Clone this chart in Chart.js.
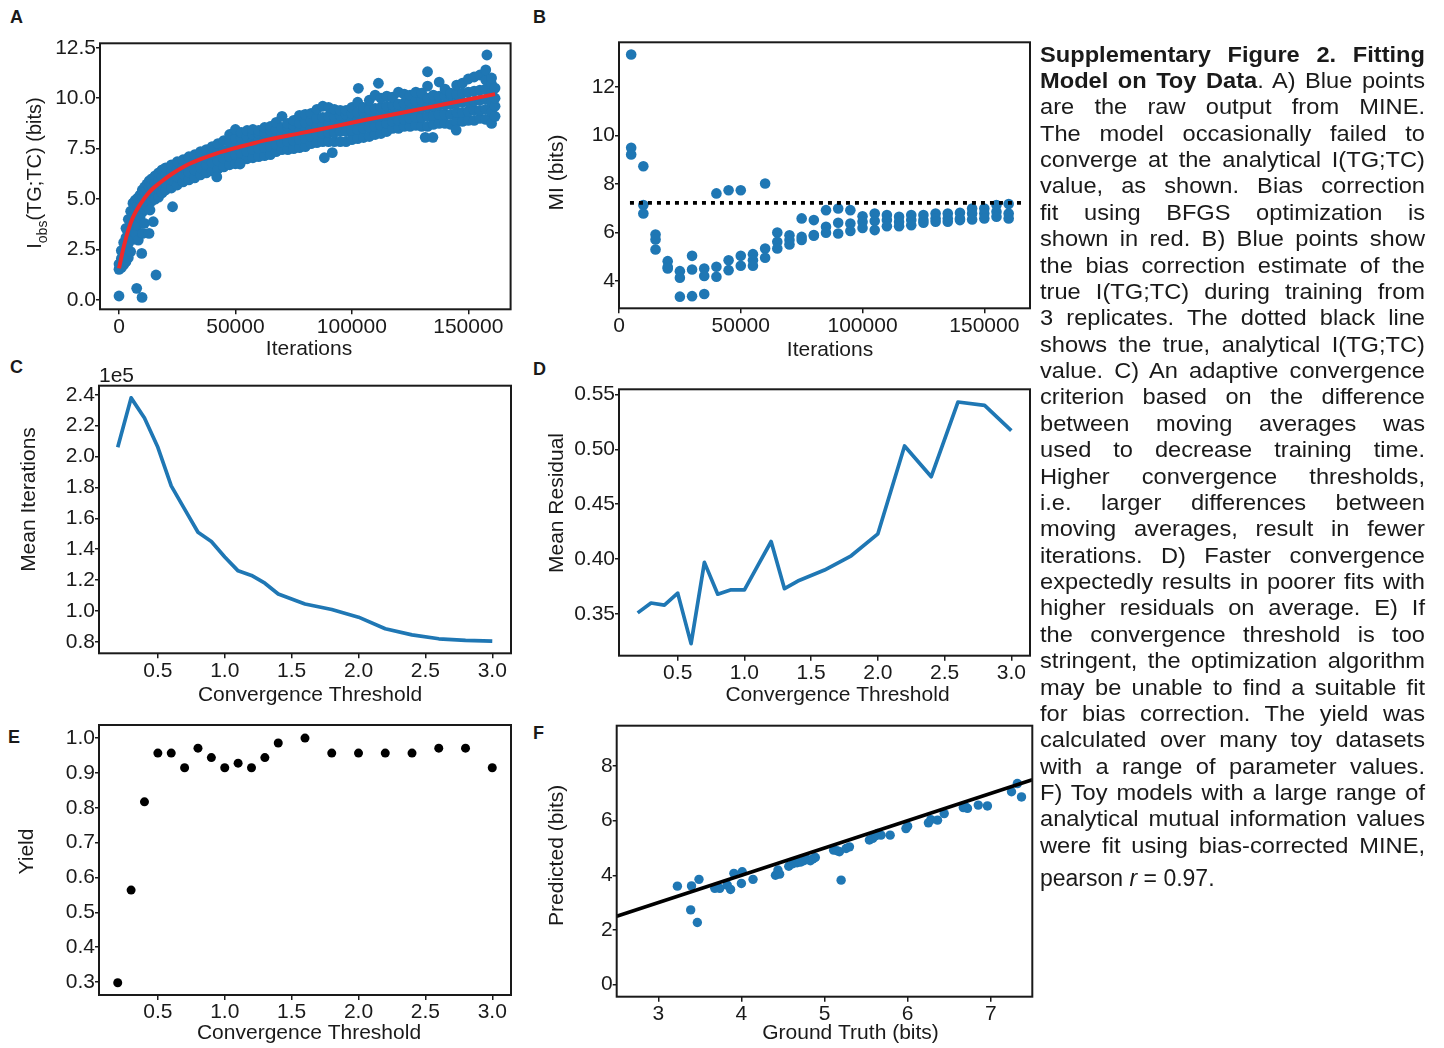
<!DOCTYPE html>
<html>
<head>
<meta charset="utf-8">
<script src="https://cdn.jsdelivr.net/npm/chart.js@4.4.1/dist/chart.umd.min.js"></script>
<style>
body { margin: 0; background: #fff; width: 1444px; height: 1048px; position: relative; overflow: hidden;
  font-family: "Liberation Sans", Arial, Helvetica, sans-serif; color: #1a1a1a; }
canvas { position: absolute; }
.tag { position: absolute; font-weight: bold; font-size: 18px; line-height: 18px; }
#cap { position: absolute; left: 1040px; top: 41.5px; width: 350px; font-size: 21.5px; line-height: 26.37px;
  transform: scaleX(1.1); transform-origin: 0 0; }
#cap div { text-align: justify; text-align-last: justify; }
#pear { position: absolute; left: 1040px; top: 865px; font-size: 23px; line-height: 26px; }
</style>
</head>
<body>
<div class="tag" style="left:10px;top:8.3px">A</div>
<div class="tag" style="left:533px;top:8.3px">B</div>
<div class="tag" style="left:10px;top:358.3px">C</div>
<div class="tag" style="left:533px;top:360px">D</div>
<div class="tag" style="left:8px;top:728.3px">E</div>
<div class="tag" style="left:533px;top:724px">F</div>

<canvas id="chartA"></canvas>
<canvas id="chartB"></canvas>
<canvas id="chartC"></canvas>
<canvas id="chartD"></canvas>
<canvas id="chartE"></canvas>
<canvas id="chartF"></canvas>

<div id="cap">
<div><b>Supplementary Figure 2. Fitting</b></div>
<div><b>Model on Toy Data</b>. A) Blue points</div>
<div>are the raw output from MINE.</div>
<div>The model occasionally failed to</div>
<div>converge at the analytical I(TG;TC)</div>
<div>value, as shown. Bias correction</div>
<div>fit using BFGS optimization is</div>
<div>shown in red. B) Blue points show</div>
<div>the bias correction estimate of the</div>
<div>true I(TG;TC) during training from</div>
<div>3 replicates. The dotted black line</div>
<div>shows the true, analytical I(TG;TC)</div>
<div>value. C) An adaptive convergence</div>
<div>criterion based on the difference</div>
<div>between moving averages was</div>
<div>used to decrease training time.</div>
<div>Higher convergence thresholds,</div>
<div>i.e. larger differences between</div>
<div>moving averages, result in fewer</div>
<div>iterations. D) Faster convergence</div>
<div>expectedly results in poorer fits with</div>
<div>higher residuals on average. E) If</div>
<div>the convergence threshold is too</div>
<div>stringent, the optimization algorithm</div>
<div>may be unable to find a suitable fit</div>
<div>for bias correction. The yield was</div>
<div>calculated over many toy datasets</div>
<div>with a range of parameter values.</div>
<div>F) Toy models with a large range of</div>
<div>analytical mutual information values</div>
<div>were fit using bias-corrected MINE,</div>
</div>
<div id="pear">pearson <i>r</i> = 0.97.</div>

<script>
'use strict'

// ---- A: raw MINE output (columns of points) + bias correction fit
var aIter = [0, 1000, 2000, 3000, 4000, 5000, 6000, 7000, 8000, 9000, 10000, 11000, 12000, 13000, 14000,
  15500, 17000, 18500, 20000, 22500, 25000, 27500, 30000, 32500, 35000, 37500, 40000, 42500, 45000, 47500,
  50000, 52500, 55000, 57500, 60000, 62500, 65000, 67500, 70000, 72500, 75000, 77500, 80000, 82500, 85000,
  87500, 90000, 92500, 95000, 97500, 100000, 102500, 105000, 107500, 110000, 112500, 115000, 117500, 120000,
  122500, 125000, 127500, 130000, 132500, 135000, 137500, 140000, 142500, 145000, 147500, 150000, 152500,
  155000, 157500, 160000, 161500];
var aMI = [
  [1.52, 1.78], [1.6, 2.05, 2.45], [1.75, 2.3, 2.85], [1.9, 2.5, 3.1, 3.55], [2.1, 2.8, 3.4, 4.0],
  [2.4, 3.1, 3.75, 4.4], [3.0, 3.6, 4.2, 4.8], [3.3, 3.9, 4.5, 4.95], [3.7, 4.2, 4.7, 5.05], [4.1, 4.6, 5.0, 5.2],
  [4.35, 4.8, 5.2, 5.45], [4.5, 4.95, 5.35, 5.6], [4.65, 5.1, 5.5, 5.75], [4.8, 5.2, 5.6, 5.9], [4.9, 5.3, 5.7, 6.0],
  [5.0, 5.4, 5.8, 6.15], [5.1, 5.5, 5.9, 6.3], [5.3, 5.7, 6.1, 6.45], [5.45, 5.8, 6.2, 6.55], [5.55, 5.95, 6.35, 6.7],
  [5.7, 6.1, 6.5, 6.85], [5.85, 6.25, 6.6, 6.95], [5.95, 6.35, 6.75, 7.1], [6.05, 6.45, 6.85, 7.2], [6.2, 6.55, 6.95, 7.35],
  [6.3, 6.7, 7.05, 7.45], [6.4, 6.8, 7.2, 7.6], [6.5, 6.9, 7.3, 7.75], [6.6, 7.0, 7.4, 7.9], [6.7, 7.1, 7.5, 7.85, 8.2],
  [6.75, 7.2, 7.6, 8.0, 8.45], [6.9, 7.3, 7.7, 8.05, 8.3], [7.0, 7.35, 7.75, 8.1, 8.4], [7.05, 7.45, 7.85, 8.2, 8.45],
  [7.1, 7.5, 7.9, 8.25, 8.4], [7.15, 7.55, 7.95, 8.3, 8.55], [7.2, 7.6, 8.0, 8.4, 8.6], [7.35, 7.7, 8.1, 8.45, 8.8],
  [7.45, 7.8, 8.2, 8.55, 9.1], [7.45, 7.85, 8.25, 8.6, 8.75], [7.5, 7.9, 8.3, 8.65, 8.9], [7.55, 7.95, 8.35, 8.75, 9.15],
  [7.6, 8.0, 8.4, 8.8, 9.2], [7.75, 8.1, 8.5, 8.9, 9.25], [7.8, 8.2, 8.6, 9.0, 9.45], [7.85, 8.25, 8.65, 9.05, 9.6],
  [7.85, 8.3, 8.7, 9.1, 9.55], [7.85, 8.3, 8.7, 9.1, 9.45], [7.85, 8.35, 8.75, 9.15, 9.4], [7.85, 8.35, 8.8, 9.2, 9.4],
  [7.95, 8.4, 8.85, 9.25, 9.55], [8.0, 8.45, 8.9, 9.3, 9.8], [8.05, 8.5, 8.95, 9.35, 9.55], [8.1, 8.55, 9.0, 9.45, 9.9],
  [8.2, 8.6, 9.05, 9.5, 10.15], [8.25, 8.65, 9.1, 9.55, 10.0], [8.35, 8.75, 9.15, 9.6, 10.1], [8.5, 8.85, 9.2, 9.65, 10.05],
  [8.5, 8.9, 9.3, 9.7, 10.3], [8.6, 8.95, 9.35, 9.75, 10.2], [8.6, 9.0, 9.4, 9.8, 10.15], [8.65, 9.05, 9.45, 9.85, 10.3],
  [8.6, 9.05, 9.5, 9.9, 10.25], [8.6, 9.1, 9.55, 10.0, 10.6], [8.7, 9.15, 9.6, 10.0, 10.15], [8.75, 9.2, 9.65, 10.1, 10.8],
  [8.75, 9.2, 9.65, 10.1, 10.45], [8.7, 9.2, 9.7, 10.15, 10.25], [8.85, 9.3, 9.75, 10.2, 10.65], [8.85, 9.3, 9.8, 10.25, 10.75],
  [8.9, 9.35, 9.8, 10.3, 10.95], [8.9, 9.4, 9.85, 10.35, 11.05], [9.0, 9.4, 9.9, 10.4, 11.15], [8.95, 9.45, 9.95, 10.45, 10.9, 11.4],
  [8.75, 9.3, 9.8, 10.25, 10.7, 11.0], [9.1, 9.6, 10.0, 10.5]
];
var aOutIter = [0, 7600, 9900, 15900, 8300, 9750, 10200, 10900, 12900, 13300, 14700, 23000, 42000, 52000,
  88200, 91600, 102800, 111400, 131500, 132500, 134800, 144800, 158000];
var aOutMI = [0.2, 0.58, 0.13, 1.24, 2.97, 2.31, 3.3, 3.8, 3.3, 4.46, 3.88, 4.62, 6.1, 6.74,
  7.05, 7.3, 10.49, 10.74, 8.06, 11.31, 8.06, 8.42, 12.14];
var fitIter = [0, 2000, 4000, 6000, 9000, 13000, 18000, 23000, 29000, 35000, 42000, 49000, 56000, 63000,
  78000, 92000, 106000, 121000, 135000, 149000, 161500];
var fitMI = [1.57, 2.62, 3.47, 4.1, 4.72, 5.35, 5.85, 6.27, 6.68, 6.98, 7.27, 7.5, 7.71, 7.92,
  8.27, 8.59, 8.93, 9.27, 9.59, 9.91, 10.2];

// ---- B: bias corrected estimate, 3 replicates
var bIter = [5000, 5000, 5000, 10000, 10000, 10000, 15000, 15000, 15000, 20000, 20000, 20000,
  25000, 25000, 25000, 30000, 30000, 30000, 35000, 35000, 35000, 40000, 40000, 40000,
  45000, 45000, 45000, 50000, 50000, 50000, 55000, 55000, 55000, 60000, 60000, 60000,
  65000, 65000, 65000, 70000, 70000, 70000, 75000, 75000, 75000, 80000, 80000, 80000,
  85000, 85000, 85000, 90000, 90000, 90000, 95000, 95000, 95000, 100000, 100000, 100000,
  105000, 105000, 105000, 110000, 110000, 110000, 115000, 115000, 115000, 120000, 120000, 120000,
  125000, 125000, 125000, 130000, 130000, 130000, 135000, 135000, 135000, 140000, 140000, 140000,
  145000, 145000, 145000, 150000, 150000, 150000, 155000, 155000, 155000, 160000, 160000, 160000];
var bMI = [13.33, 9.49, 9.21, 8.73, 7.13, 6.78, 5.92, 5.71, 5.30, 4.82, 4.58, 4.52,
  4.41, 4.14, 3.36, 5.04, 4.48, 3.38, 4.52, 4.21, 3.47, 7.61, 4.59, 4.18,
  7.74, 4.86, 4.45, 7.74, 5.04, 4.63, 5.11, 4.86, 4.63, 8.02, 5.34, 4.96,
  6.0, 5.62, 5.34, 5.89, 5.69, 5.51, 6.58, 5.82, 5.69, 6.51, 5.9, 5.87,
  6.92, 6.24, 5.99, 6.99, 6.40, 5.96, 6.92, 6.37, 6.06, 6.67, 6.44, 6.19,
  6.78, 6.47, 6.10, 6.72, 6.51, 6.26, 6.65, 6.44, 6.26, 6.72, 6.51, 6.30,
  6.72, 6.51, 6.40, 6.78, 6.58, 6.44, 6.78, 6.58, 6.44, 6.81, 6.58, 6.51,
  6.99, 6.78, 6.54, 6.99, 6.78, 6.58, 7.13, 6.85, 6.65, 7.17, 6.78, 6.58];
var trueIter = [4500, 166500];
var trueMI = [7.22, 7.22];

// ---- C, D, E: convergence threshold sweep
var thresholds = [0.2, 0.3, 0.4, 0.5, 0.6, 0.7, 0.8, 0.9, 1.0, 1.1, 1.2, 1.3, 1.4,
  1.6, 1.8, 2.0, 2.2, 2.4, 2.6, 2.8, 3.0];
var meanIterations = [206000, 238000, 225000, 206000, 181000, 166000, 151000, 145000, 135000, 126000, 123000,
  118000, 111000, 104500, 101000, 96000, 88500, 84500, 82000, 81000, 80500];
var meanResidual = [0.351, 0.360, 0.358, 0.369, 0.323, 0.397, 0.368, 0.372, 0.372, 0.394, 0.416,
  0.373, 0.380, 0.390, 0.403, 0.423, 0.503, 0.475, 0.543, 0.540, 0.517];
var yieldVals = [0.298, 0.564, 0.817, 0.957, 0.957, 0.915, 0.971, 0.944, 0.915, 0.928, 0.915,
  0.944, 0.986, 1.0, 0.957, 0.957, 0.957, 0.957, 0.971, 0.971, 0.915];

// ---- F: toy models, ground truth vs predicted
var truthF = [3.23, 3.40, 3.49, 3.39, 3.47, 3.68, 3.74, 3.83, 3.87, 3.91, 4.01, 4.00, 4.14, 4.41, 4.44,
  4.46, 4.57, 4.67, 4.75, 4.79, 4.83, 4.89, 5.11, 5.18, 5.26, 5.30, 5.20, 5.54, 5.58, 5.64,
  5.68, 5.79, 5.98, 6.00, 6.25, 6.28, 6.36, 6.44, 6.67, 6.72, 6.85, 6.96, 7.25, 7.32, 7.37,
  4.62, 4.71, 4.86, 5.15, 5.62, 6.70];
var predF = [3.60, 3.61, 3.85, 2.73, 2.27, 3.52, 3.52, 3.64, 3.48, 4.07, 4.13, 3.70, 3.85, 4.00, 4.19,
  4.04, 4.33, 4.46, 4.53, 4.58, 4.53, 4.65, 4.92, 4.86, 4.98, 5.04, 3.82, 5.29, 5.35, 5.53,
  5.47, 5.47, 5.71, 5.80, 5.92, 6.04, 6.02, 6.26, 6.48, 6.45, 6.57, 6.54, 7.06, 7.36, 6.87,
  4.42, 4.48, 4.60, 4.90, 5.45, 6.50];
var idLineX = [2.5, 7.5];
var idLineY = [2.5, 7.5];

// ---- tick positions and labels
var iterTicks = [0, 50000, 100000, 150000];
var iterLabels = ['0', '50000', '100000', '150000'];
var aYTicks = [0, 2.5, 5, 7.5, 10, 12.5];
var aYLabels = ['0.0', '2.5', '5.0', '7.5', '10.0', '12.5'];
var bYTicks = [4, 6, 8, 10, 12];
var bYLabels = ['4', '6', '8', '10', '12'];
var thrTicks = [0.5, 1.0, 1.5, 2.0, 2.5, 3.0];
var thrLabels = ['0.5', '1.0', '1.5', '2.0', '2.5', '3.0'];
var cYTicks = [80000, 100000, 120000, 140000, 160000, 180000, 200000, 220000, 240000];
var cYLabels = ['0.8', '1.0', '1.2', '1.4', '1.6', '1.8', '2.0', '2.2', '2.4'];
var dYTicks = [0.35, 0.40, 0.45, 0.50, 0.55];
var dYLabels = ['0.35', '0.40', '0.45', '0.50', '0.55'];
var eYTicks = [0.3, 0.4, 0.5, 0.6, 0.7, 0.8, 0.9, 1.0];
var eYLabels = ['0.3', '0.4', '0.5', '0.6', '0.7', '0.8', '0.9', '1.0'];
var fXTicks = [3, 4, 5, 6, 7];
var fXLabels = ['3', '4', '5', '6', '7'];
var fYTicks = [0, 2, 4, 6, 8];
var fYLabels = ['0', '2', '4', '6', '8'];

var FONT = '"Liberation Sans", Arial, Helvetica, sans-serif';
var INK = '#1a1a1a';
var BLUE = '#1f77b4';
var RED = '#ee2a2a';

function xy(xs, ys) {
  return xs.map(function (x, i) { return { x: x, y: ys[i] }; });
}

function columns(xs, cols) {
  var out = [];
  xs.forEach(function (x, i) {
    cols[i].forEach(function (y) { out.push({ x: x, y: y }); });
  });
  return out;
}

// frame around plot area + axis titles drawn at their places
var panelText = {
  id: 'panelText',
  afterDraw: function (chart, args, o) {
    var ctx = chart.ctx, a = chart.chartArea;
    ctx.save();
    ctx.strokeStyle = INK;
    ctx.lineWidth = 2;
    ctx.strokeRect(a.left, a.top, a.right - a.left, a.bottom - a.top);
    ctx.fillStyle = INK;
    ctx.textBaseline = 'middle';
    ctx.textAlign = 'left';
    o.texts.forEach(function (t) {
      ctx.save();
      ctx.translate(t.x - o.ox, t.y - o.oy);
      if (t.rot) ctx.rotate(-Math.PI / 2);
      var parts = t.parts || [{ s: t.text, size: 21 }];
      var w = 0;
      parts.forEach(function (p) {
        ctx.font = p.size + 'px ' + FONT;
        w += ctx.measureText(p.s).width;
      });
      var x = t.left ? 0 : -w / 2;
      parts.forEach(function (p) {
        ctx.font = p.size + 'px ' + FONT;
        ctx.fillText(p.s, x, p.dy || 0);
        x += ctx.measureText(p.s).width;
      });
      ctx.restore();
    });
    ctx.restore();
  }
};

function axis(min, max, ticks, labels, isX) {
  return {
    type: 'linear',
    min: min,
    max: max,
    afterBuildTicks: function (s) { s.ticks = ticks.map(function (v) { return { value: v }; }); },
    ticks: {
      callback: function (v, i) { return labels[i]; },
      color: INK,
      font: { family: FONT, size: 21 },
      padding: 0,
      maxRotation: 0,
      autoSkip: false
    },
    grid: { drawOnChartArea: false, drawTicks: true, tickLength: isX ? 5 : 4, color: INK, lineWidth: 1.5 },
    border: { display: false }
  };
}

// box: [left, top, width, height] of canvas, frame: [left, right, top, bottom] of plot area
function makeChart(id, box, frame, datasets, xAx, yAx, texts) {
  var cv = document.getElementById(id);
  cv.style.left = box[0] + 'px';
  cv.style.top = box[1] + 'px';
  cv.width = box[2];
  cv.height = box[3];
  cv.style.width = box[2] + 'px';
  cv.style.height = box[3] + 'px';
  xAx.afterFit = function (s) { s.height = box[1] + box[3] - frame[3]; };
  yAx.afterFit = function (s) { s.width = frame[0] - box[0]; };
  return new Chart(cv, {
    type: 'scatter',
    data: { datasets: datasets },
    options: {
      responsive: false,
      animation: false,
      devicePixelRatio: 1,
      layout: { padding: { top: frame[2] - box[1], right: box[0] + box[2] - frame[1], left: 0, bottom: 0 } },
      scales: { x: xAx, y: yAx },
      plugins: {
        legend: { display: false },
        tooltip: { enabled: false },
        panelText: { ox: box[0], oy: box[1], texts: texts }
      }
    },
    plugins: [panelText]
  });
}

function dots(data, color, r) {
  return { data: data, pointRadius: r, pointHoverRadius: r, pointBackgroundColor: color,
    pointBorderWidth: 0, backgroundColor: color, borderColor: color };
}

function line(data, color, w, extra) {
  var d = { data: data, showLine: true, pointRadius: 0, pointHoverRadius: 0, borderColor: color,
    backgroundColor: color, borderWidth: w, fill: false, borderJoinStyle: 'round' };
  for (var k in extra) d[k] = extra[k];
  return d;
}

// A
makeChart('chartA', [0, 28, 520, 342], [100, 510.6, 43.3, 309.3], [
  line(xy(fitIter, fitMI), RED, 4, { cubicInterpolationMode: 'monotone' }),
  dots(columns(aIter, aMI).concat(xy(aOutIter, aOutMI)), BLUE, 5.4)
], axis(-8160, 168170, iterTicks, iterLabels, true), axis(-0.46, 12.72, aYTicks, aYLabels, false), [
  { text: 'Iterations', x: 309, y: 349 },
  { rot: true, x: 35, y: 173, parts: [{ s: 'I', size: 20 }, { s: 'obs', size: 14, dy: 8 }, { s: '(TG;TC) (bits)', size: 20 }] }
]);

// B
makeChart('chartB', [520, 28, 520, 342], [619, 1030, 42.3, 308.3], [
  line(xy(trueIter, trueMI), '#000', 3.8, { borderDash: [4, 5], borderCapStyle: 'butt' }),
  dots(xy(bIter, bMI), BLUE, 5.3)
], axis(0, 168760, iterTicks, iterLabels, true), axis(2.88, 13.83, bYTicks, bYLabels, false), [
  { text: 'Iterations', x: 830, y: 350 },
  { text: 'MI (bits)', rot: true, x: 557, y: 172.5 }
]);

// C
makeChart('chartC', [0, 355, 520, 357], [99, 511, 385.7, 653.3], [
  line(xy(thresholds, meanIterations), BLUE, 3.7)
], axis(0.06, 3.14, thrTicks, thrLabels, true), axis(72600, 245900, cYTicks, cYLabels, false), [
  { text: 'Convergence Threshold', x: 310, y: 695 },
  { text: 'Mean Iterations', rot: true, x: 29, y: 499.5 },
  { text: '1e5', left: true, x: 99, y: 376 }
]);

// D
makeChart('chartD', [520, 355, 520, 357], [619, 1030, 389.3, 655.7], [
  line(xy(thresholds, meanResidual), BLUE, 3.7)
], axis(0.06, 3.14, thrTicks, thrLabels, true), axis(0.312, 0.5546, dYTicks, dYLabels, false), [
  { text: 'Convergence Threshold', x: 837.5, y: 695 },
  { text: 'Mean Residual', rot: true, x: 557, y: 503 }
]);

// E
makeChart('chartE', [0, 712, 520, 336], [99, 511, 725, 995], [
  dots(xy(thresholds, yieldVals), '#000', 4.5)
], axis(0.06, 3.14, thrTicks, thrLabels, true), axis(0.263, 1.0375, eYTicks, eYLabels, false), [
  { text: 'Convergence Threshold', x: 309, y: 1033.3 },
  { text: 'Yield', rot: true, x: 27, y: 851.5 }
]);

// F
makeChart('chartF', [520, 712, 520, 336], [616.7, 1032.3, 725.7, 996.7], [
  line(xy(idLineX, idLineY), '#000', 3.6),
  dots(xy(truthF, predF), BLUE, 4.7)
], axis(2.5, 7.5, fXTicks, fXLabels, true), axis(-0.45, 9.48, fYTicks, fYLabels, false), [
  { text: 'Ground Truth (bits)', x: 850.5, y: 1033.3 },
  { text: 'Predicted (bits)', rot: true, x: 557.5, y: 855.3 }
]);
</script>
</body>
</html>
